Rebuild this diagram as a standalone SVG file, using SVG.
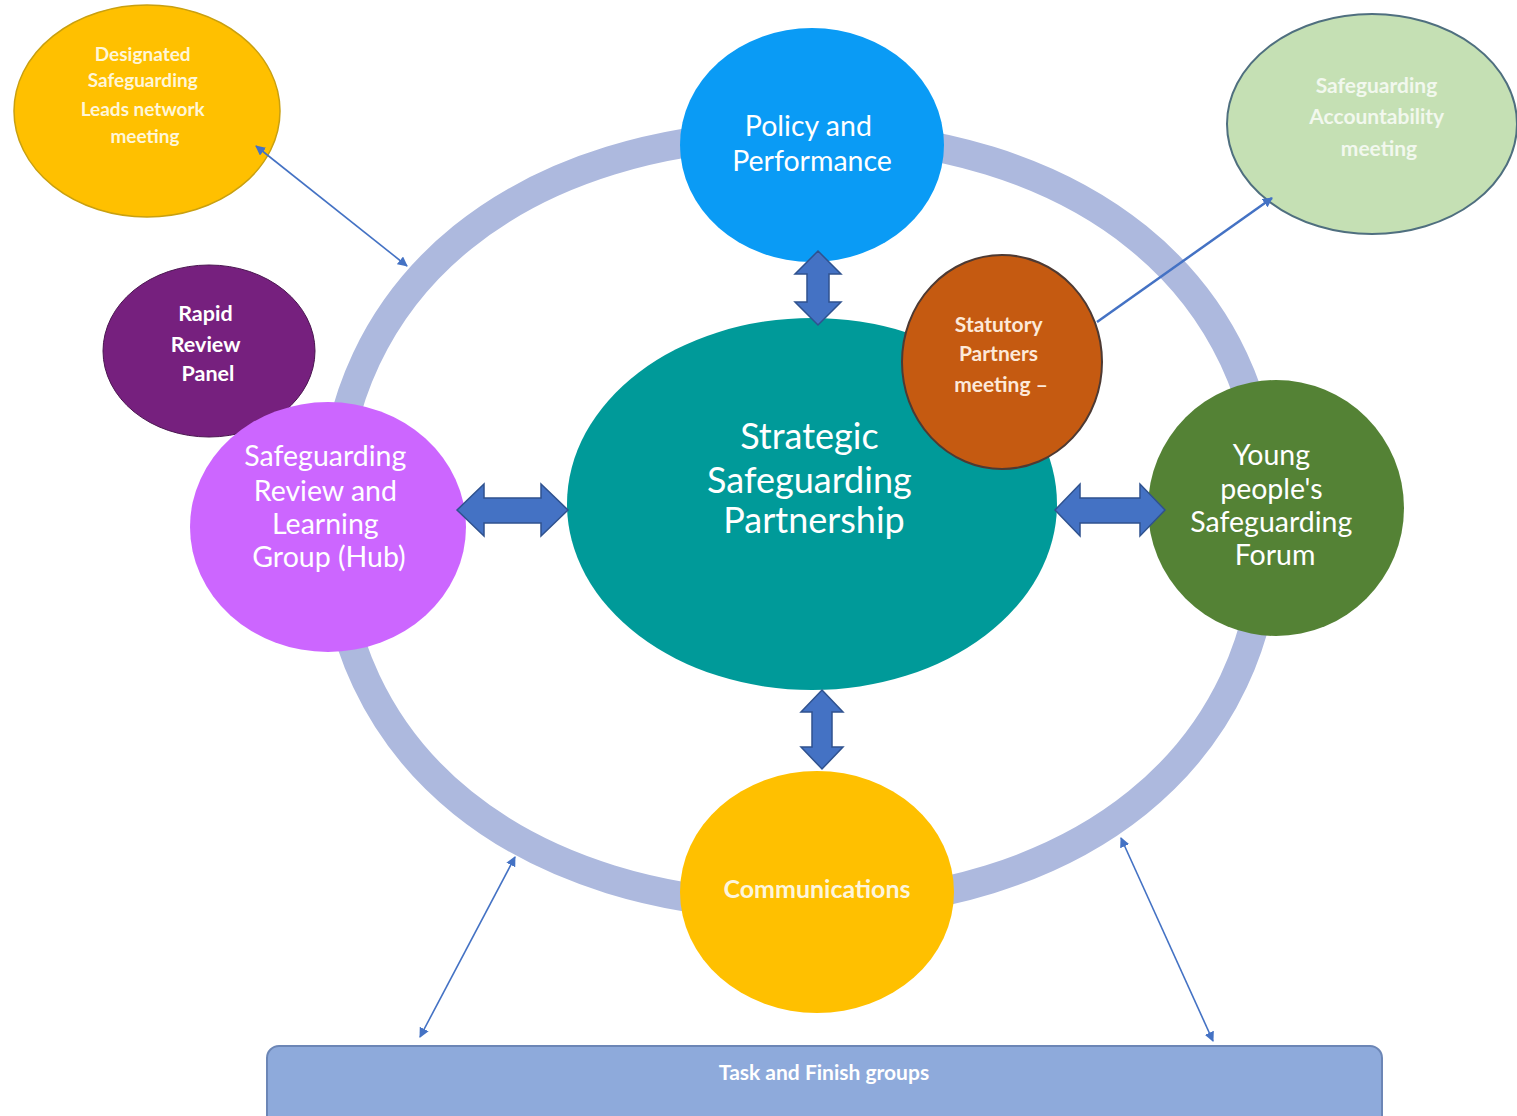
<svg xmlns="http://www.w3.org/2000/svg" width="1517" height="1116" viewBox="0 0 1517 1116">
  <style>
    text { font-family: Lato, "Open Sans", "Liberation Sans", sans-serif; text-anchor: middle; }
    .lbl-lg { font-size: 36px; fill: #ffffff; }
    .lbl-md { font-size: 28.5px; fill: #ffffff; }
    .lbl-sm { font-size: 21px; font-weight: bold; }
    .big-arrow { fill: #4472C4; stroke: #2F528F; stroke-width: 1.5; stroke-linejoin: miter; }
    .thin { stroke: #4472C4; stroke-width: 1.6; fill: none; }
  </style>
  <defs>
    <marker id="tip" viewBox="0 0 10 10" refX="9" refY="5" markerWidth="10" markerHeight="10" markerUnits="userSpaceOnUse" orient="auto-start-reverse">
      <path d="M0,0 L10,5 L0,10 Z" fill="#4472C4"/>
    </marker>
  </defs>

  <rect width="1517" height="1116" fill="#ffffff"/>

  <!-- outer ring linking the groups -->
  <path id="ring" d="M1268,520 C1268,759 1076,906 800,906 C524,906 332,759 332,520 C332,281 524,134 800,134 C1076,134 1268,281 1268,520 Z" fill="none" stroke="#adb9de" stroke-width="29"/>

  <g id="node-designated">
    <ellipse cx="147" cy="111" rx="133" ry="106" fill="#FFC000" stroke="#c9a010" stroke-width="1.5"/>
    <text class="lbl-sm" style="font-size:19px" fill="#fff6d8">
      <tspan x="145" y="61">Designated</tspan>
      <tspan x="145" y="87">Safeguarding</tspan>
      <tspan x="145" y="116">Leads network</tspan>
      <tspan x="145" y="143">meeting</tspan>
    </text>
  </g>

  <g id="node-accountability">
    <ellipse cx="1372" cy="124" rx="145" ry="110" fill="#C5E0B4" stroke="#4f6f7f" stroke-width="2"/>
    <text class="lbl-sm" fill="#f2f8ee">
      <tspan x="1379" y="93">Safeguarding</tspan>
      <tspan x="1379" y="124">Accountability</tspan>
      <tspan x="1379" y="156">meeting</tspan>
    </text>
  </g>

  <g id="node-policy">
    <ellipse cx="812" cy="145" rx="132" ry="117" fill="#0A9BF5"/>
    <text style="font-size:28.5px" fill="#ffffff">
      <tspan x="812" y="136">Policy and</tspan>
      <tspan x="812" y="171">Performance</tspan>
    </text>
  </g>

  <g id="node-rapid-review">
    <ellipse cx="209" cy="351" rx="106" ry="86" fill="#76207E" stroke="#4a1550" stroke-width="1"/>
    <text class="lbl-sm" style="font-size:21.5px" fill="#ffffff">
      <tspan x="208" y="321">Rapid</tspan>
      <tspan x="208" y="352">Review</tspan>
      <tspan x="208" y="381">Panel</tspan>
    </text>
  </g>

  <g id="node-review-learning">
    <ellipse cx="328" cy="527" rx="138" ry="125" fill="#CC66FF"/>
    <text class="lbl-md">
      <tspan x="329" y="466">Safeguarding</tspan>
      <tspan x="329" y="501">Review and</tspan>
      <tspan x="329" y="534">Learning</tspan>
      <tspan x="329" y="567">Group (Hub)</tspan>
    </text>
  </g>

  <g id="node-strategic">
    <ellipse cx="812" cy="504" rx="245" ry="186" fill="#009A99"/>
    <text class="lbl-lg">
      <tspan x="814" y="449">Strategic</tspan>
      <tspan x="814" y="493">Safeguarding</tspan>
      <tspan x="814" y="533">Partnership</tspan>
    </text>
  </g>

  <g id="node-statutory">
    <ellipse cx="1002" cy="362" rx="100" ry="107" fill="#C55A11" stroke="#4e3a33" stroke-width="2"/>
    <text class="lbl-sm" fill="#fde9d9">
      <tspan x="1001" y="332">Statutory</tspan>
      <tspan x="1001" y="361">Partners</tspan>
      <tspan x="1001" y="392">meeting –</tspan>
    </text>
  </g>

  <g id="node-young-people">
    <ellipse cx="1276" cy="508" rx="128" ry="128" fill="#548235"/>
    <text class="lbl-md">
      <tspan x="1275" y="465">Young</tspan>
      <tspan x="1275" y="499">people's</tspan>
      <tspan x="1275" y="532">Safeguarding</tspan>
      <tspan x="1275" y="565">Forum</tspan>
    </text>
  </g>

  <g id="node-communications">
    <ellipse cx="817" cy="892" rx="137" ry="121" fill="#FFC000"/>
    <text x="817" y="898" style="font-size:25px;font-weight:bold" fill="#fdf5dc">Communications</text>
  </g>

  <g id="node-task-finish">
    <rect x="267" y="1046" width="1115" height="90" rx="12" fill="#8EAADB" stroke="#6c86b6" stroke-width="2"/>
    <text class="lbl-sm" x="824" y="1080" fill="#ffffff">Task and Finish groups</text>
  </g>

  <g id="connectors">
    <!-- block double arrows around the partnership -->
    <polygon class="big-arrow" points="818,251 841,274 829,274 829,302 841,302 818,325 795,302 807,302 807,274 795,274"/>
    <polygon class="big-arrow" points="822,690 843,712 832,712 832,747 843,747 822,769 801,747 812,747 812,712 801,712"/>
    <polygon class="big-arrow" points="457,510 484,484 484,498 541,498 541,484 568,510 541,536 541,523 484,523 484,536"/>
    <polygon class="big-arrow" points="1055,510 1080,484 1080,498 1140,498 1140,484 1165,510 1140,536 1140,523 1080,523 1080,536"/>

    <!-- thin links -->
    <line class="thin" x1="256" y1="146" x2="407" y2="266" marker-start="url(#tip)" marker-end="url(#tip)"/>
    <line class="thin" x1="1097" y1="322" x2="1272" y2="198" style="stroke-width:2.5" marker-end="url(#tip)"/>
    <line class="thin" x1="515" y1="857" x2="420" y2="1037" marker-start="url(#tip)" marker-end="url(#tip)"/>
    <line class="thin" x1="1121" y1="838" x2="1213" y2="1041" marker-start="url(#tip)" marker-end="url(#tip)"/>
  </g>
</svg>
